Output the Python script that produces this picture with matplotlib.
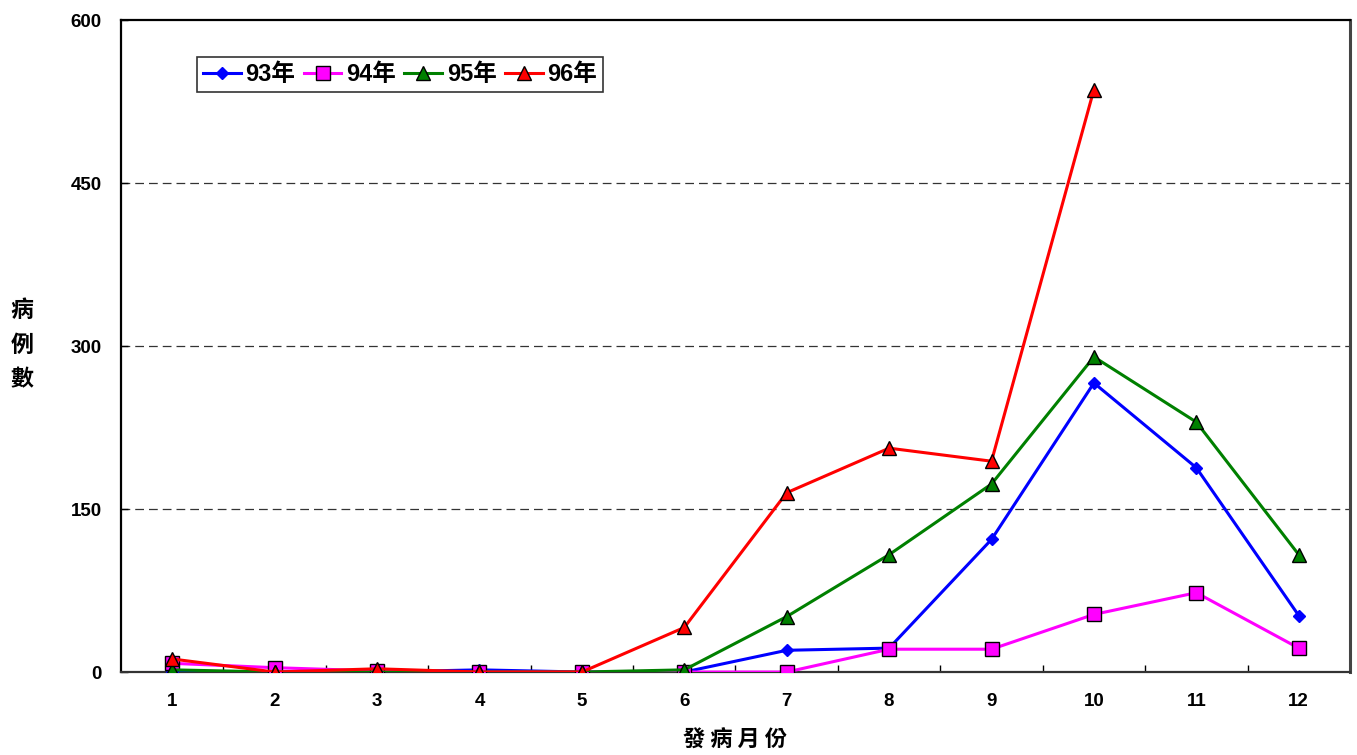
import matplotlib
matplotlib.use("Agg")
import matplotlib.pyplot as plt
from matplotlib.ticker import FixedLocator

plt.rcParams['font.family'] = ['Liberation Sans', 'Noto Sans CJK TC']

# ── DATA ─────────────────────────────────────────────────────
months = [1, 2, 3, 4, 5, 6, 7, 8, 9, 10, 11, 12]
y93 = [0, 0, 0, 2, 0, 0, 20, 22, 122, 266, 188, 52]
y94 = [8, 4, 1, 0, 0, 0, 0, 21, 21, 53, 73, 22]
y95 = [2, 0, 0, 0, 0, 2, 51, 108, 173, 290, 230, 108]
y96 = [12, 0, 3, 0, 0, 41, 165, 206, 194, 536]
labels = ['93年', '94年', '95年', '96年']
yticks = [0, 150, 300, 450, 600]

# ── FIGURE ───────────────────────────────────────────────────
fig = plt.figure(figsize=(13.57, 7.55), dpi=100)
ax = fig.add_axes([0.0892, 0.1099, 0.9056, 0.8636])

ax.plot(months, y93, color='blue', lw=2.2, marker='D', ms=6,
        mfc='blue', mec='blue', label=labels[0], zorder=3)
ax.plot(months, y94, color='magenta', lw=2.2, marker='s', ms=10,
        mfc='magenta', mec='black', mew=1.0, label=labels[1], zorder=3)
ax.plot(months, y95, color='green', lw=2.2, marker='^', ms=10,
        mfc='green', mec='black', mew=1.0, label=labels[2], zorder=3)
ax.plot(months[:len(y96)], y96, color='red', lw=2.2, marker='^', ms=10,
        mfc='red', mec='black', mew=1.0, label=labels[3], zorder=4)

ax.set_xlim(0.5, 12.5)
ax.set_ylim(0, 600)

# dashed gridlines
for v in yticks[1:-1]:
    ax.axhline(v, color='#333333', lw=0.9, ls=(0, (7, 4)), zorder=1)

ax.set_xticks(months)
ax.set_xticklabels([str(m) for m in months], fontsize=13.5, fontweight='bold')
ax.tick_params(axis='x', which='major', length=0, pad=15)
ax.xaxis.set_minor_locator(FixedLocator([m + 0.5 for m in months[:-1]]))
ax.tick_params(axis='x', which='minor', direction='in', length=5, width=1)

ax.set_yticks(yticks)
ax.set_yticklabels([str(v) for v in yticks], fontsize=13.5, fontweight='bold')
ax.tick_params(axis='y', direction='in', length=5, width=1, pad=14)

for s in ['left', 'bottom', 'top']:
    ax.spines[s].set_linewidth(1.6)
    ax.spines[s].set_color('black')
ax.spines['right'].set_linewidth(2.2)
ax.spines['right'].set_color('#444444')
ax.spines['bottom'].set_color('#333333')

# axis titles
for i, ch in enumerate('病例數'):
    fig.text(22 / 1357, 1 - (310 + 35 * i) / 755, ch, fontsize=16.5,
             fontweight='bold', family=['Noto Sans CJK TC'],
             ha='center', va='center')
fig.text(735 / 1357, 1 - 740 / 755, '發 病 月 份', fontsize=16,
         fontweight='bold', family=['Noto Sans CJK TC'],
         ha='center', va='center')

leg = ax.legend(loc='upper left', bbox_to_anchor=(0.0618, 0.943), ncol=4,
                frameon=True, fancybox=False, edgecolor='black',
                borderaxespad=0, handlelength=1.6, handletextpad=0.2,
                columnspacing=0.35, borderpad=0.25,
                prop={'weight': 'bold', 'size': 17})
leg.get_frame().set_linewidth(1.2)

fig.savefig('out.png', dpi=100, facecolor='white')
